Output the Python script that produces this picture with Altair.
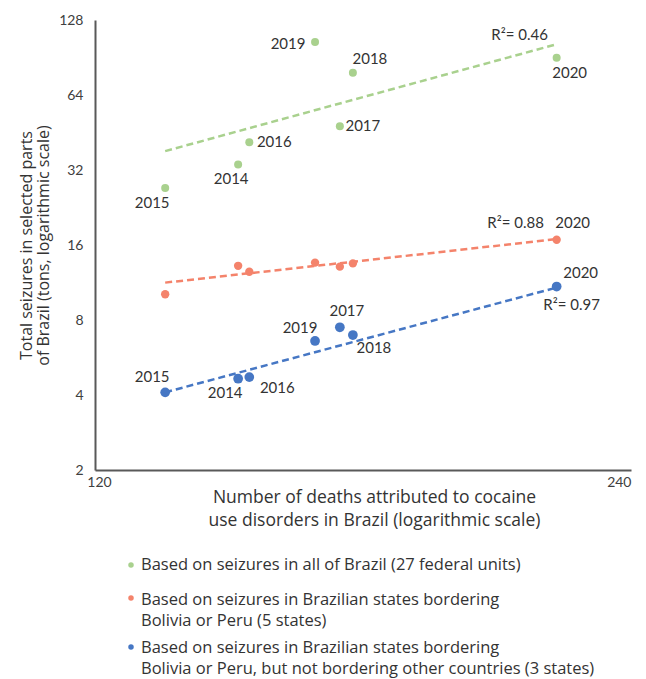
import altair as alt
import pandas as pd

# ---- data ----
years = [2014, 2015, 2016, 2017, 2018, 2019, 2020]
deaths = [144.4, 131.4, 146.5, 164.7, 167.5, 159.5, 218.0]
seizures_all_brazil = [33.7, 27.1, 41.4, 48.0, 78.7, 104.5, 90.4]
seizures_bolivia_peru = [13.2, 10.15, 12.5, 13.1, 13.5, 13.6, 16.8]
seizures_bolivia_peru_only = [4.65, 4.10, 4.72, 7.48, 6.96, 6.59, 10.9]

# power trendlines as drawn in the reference (values at the first and last x)
trend_deaths = [131.4, 218.0]
trend_all_brazil = [38.1, 102.3]
trend_bolivia_peru = [11.3, 16.9]
trend_bolivia_peru_only = [4.1, 10.8]

series_keys = ["all", "bp5", "bp3"]
series_legend = [
    ["Based on seizures in all of Brazil (27 federal units)"],
    ["Based on seizures in Brazilian states bordering", "Bolivia or Peru (5 states)"],
    ["Based on seizures in Brazilian states bordering",
     "Bolivia or Peru, but not bordering other countries (3 states)"],
]
r_squared = ["R\u00b2= 0.46", "R\u00b2= 0.88", "R\u00b2= 0.97"]
x_ticks = [120, 240]
y_ticks = [2, 4, 8, 16, 32, 64, 128]
x_title = ["Number of deaths attributed to cocaine", "use disorders in Brazil (logarithmic scale)"]
y_title = ["Total seizures in selected parts", "of Brazil (tons, logarithmic scale)"]

# ---- styles ----
colors = {"all": "#a9d18e", "bp5": "#f4836b", "bp3": "#4677c4"}
dot_sizes = {"all": 64, "bp5": 70, "bp3": 95}
TXT = "#333333"
FONT = "Lato"
FONT2 = "Open Sans"

# label offsets (dx, dy) in pixels, per series / year
label_offsets = {
    "all": {2019: (-27, 2), 2018: (17, -14), 2020: (13, 15), 2017: (23, 0),
            2016: (25, 0), 2014: (-7, 15), 2015: (-13, 15)},
    "bp5": {2020: (16, -17)},
    "bp3": {2020: (24, -14), 2017: (7, -16), 2019: (-15, -13), 2018: (21, 13),
            2015: (-13, -15), 2014: (-13, 14), 2016: (28, 11)},
}
r2_offsets = {"all": (-37, -23), "bp5": (-41, -17), "bp3": (15, 18)}

rows = []
trows = []
for key, vals, tv in zip(
    series_keys,
    [seizures_all_brazil, seizures_bolivia_peru, seizures_bolivia_peru_only],
    [trend_all_brazil, trend_bolivia_peru, trend_bolivia_peru_only],
):
    for yr, d, v in zip(years, deaths, vals):
        rows.append({"series": key, "year": yr, "deaths": d, "seizures": v})
    for d, v in zip(trend_deaths, tv):
        trows.append({"series": key, "deaths": d, "seizures": v})
df = pd.DataFrame(rows)
df["year_label"] = df["year"].astype(str)
tdf = pd.DataFrame(trows)

x_enc = alt.X(
    "deaths:Q",
    scale=alt.Scale(type="log", domain=[120, 240]),
    axis=alt.Axis(
        values=x_ticks, title=x_title, grid=False, ticks=False,
        labelAlign={"condition": {"test": "datum.value >= 240", "value": "right"}, "value": "center"},
        labelOffset={"condition": {"test": "datum.value <= 120", "value": 4}, "value": 0},
        labelPadding=5, labelFontSize=14, labelFont=FONT, labelColor="#404040",
        titleFont=FONT2, titleFontSize=17.5, titleFontWeight="normal", titleColor=TXT,
        titleLineHeight=23, titleX=279, titleY=18, titleBaseline="top", titleAlign="center",
        domainColor="#595959", domainWidth=2,
    ),
)
y_enc = alt.Y(
    "seizures:Q",
    scale=alt.Scale(type="log", base=2, domain=[2, 128]),
    axis=alt.Axis(
        values=y_ticks, title=y_title, grid=False, ticks=False,
        labelPadding=12, labelFontSize=14, labelFont=FONT, labelColor="#404040",
        titleFont=FONT2, titleFontSize=16, titleFontWeight="normal", titleColor=TXT,
        titleLineHeight=17, titlePadding=7,
        domainColor="#595959", domainWidth=2,
    ),
)

layers = []
for key in series_keys:
    layers.append(
        alt.Chart(tdf).transform_filter(alt.datum.series == key)
        .mark_line(strokeDash=[7, 4], strokeWidth=2.5, color=colors[key])
        .encode(x=x_enc, y=y_enc)
    )
for key in series_keys:
    layers.append(
        alt.Chart(df).transform_filter(alt.datum.series == key)
        .mark_circle(size=dot_sizes[key], opacity=1, color=colors[key])
        .encode(x=x_enc, y=y_enc)
    )
for key, r2 in zip(series_keys, r_squared):
    for yr, (dx, dy) in label_offsets[key].items():
        layers.append(
            alt.Chart(df)
            .transform_filter((alt.datum.series == key) & (alt.datum.year == yr))
            .mark_text(dx=dx, dy=dy, align="center", baseline="middle",
                       font=FONT, fontSize=15, color=TXT)
            .encode(x=x_enc, y=y_enc, text="year_label:N")
        )
    dx, dy = r2_offsets[key]
    layers.append(
        alt.Chart(df)
        .transform_filter((alt.datum.series == key) & (alt.datum.year == 2020))
        .transform_calculate(r2=f"'{r2}'")
        .mark_text(dx=dx, dy=dy, align="center", baseline="middle",
                   font=FONT, fontSize=15, color=TXT)
        .encode(x=x_enc, y=y_enc, text="r2:N")
    )

# ---- manual legend below the chart ----
legend_dot_y = [545, 578, 627]
legend_text_y = [[545], [580, 601], [628, 649]]
for key, lines, dy_dot, ys in zip(series_keys, series_legend, legend_dot_y, legend_text_y):
    ldf = pd.DataFrame({"label": lines})
    layers.append(
        alt.Chart(ldf.head(1))
        .mark_circle(size=30, opacity=1, color=colors[key])
        .encode(x=alt.value(36), y=alt.value(dy_dot))
    )
    for i, yy in enumerate(ys):
        layers.append(
            alt.Chart(ldf.iloc[[i]])
            .mark_text(align="left", baseline="middle", font=FONT2, fontSize=16.5, color=TXT)
            .encode(x=alt.value(46), y=alt.value(yy), text="label:N")
        )

chart = (
    alt.layer(*layers)
    .properties(width=536, height=450,
                padding={"left": 10, "top": 5, "right": 5, "bottom": 5})
    .configure_view(stroke=None)
)

chart.save("out.html", embed_options={"renderer": "svg", "actions": False})
